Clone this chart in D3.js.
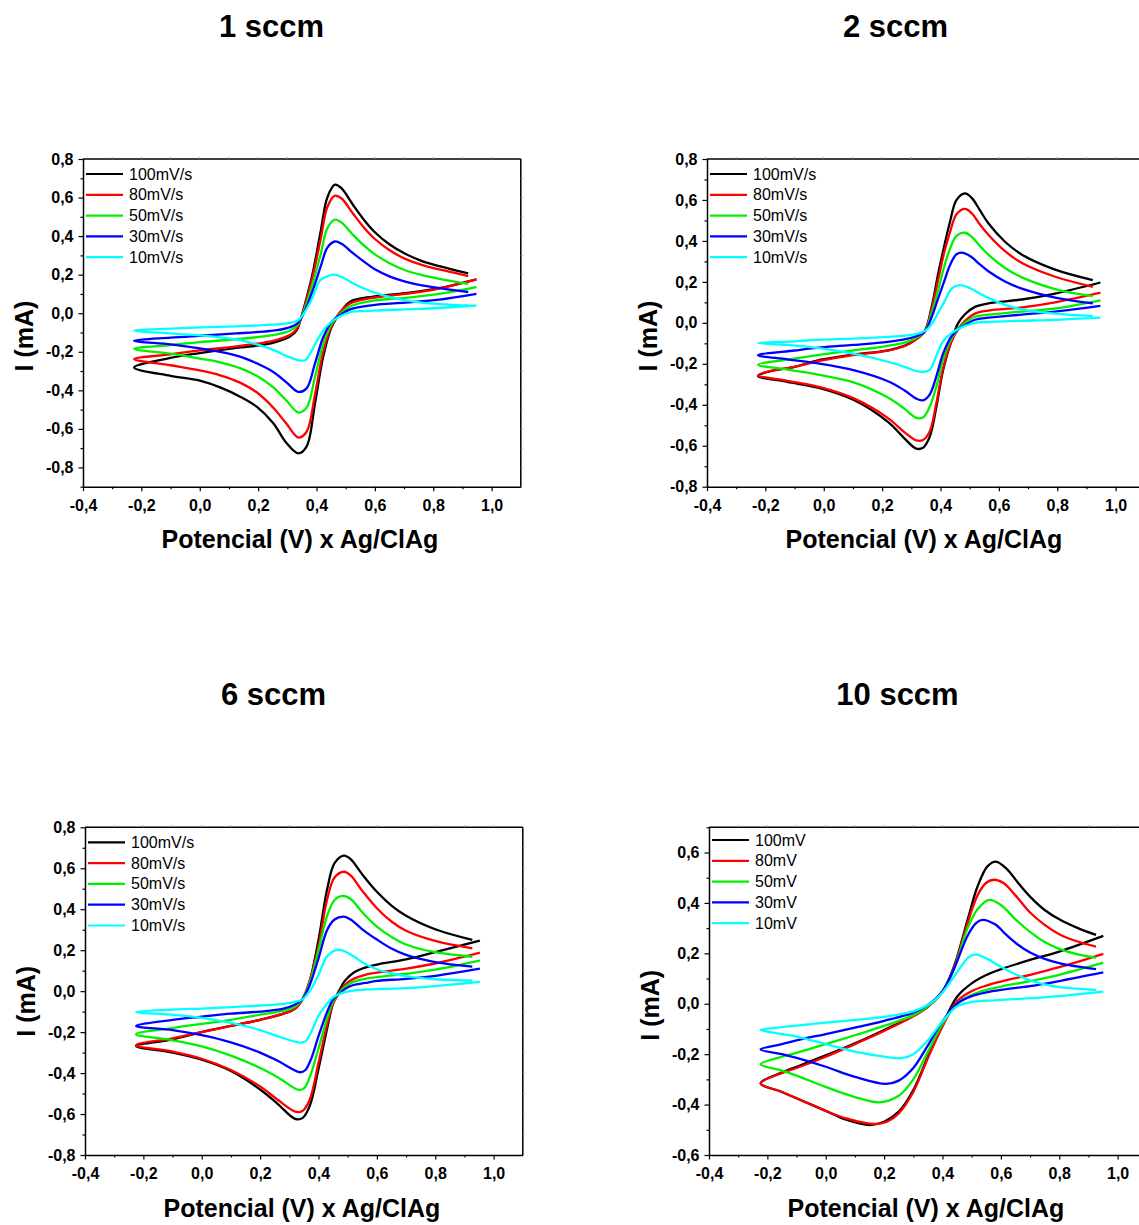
<!DOCTYPE html>
<html>
<head>
<meta charset="utf-8">
<script src="https://cdn.jsdelivr.net/npm/d3@7/dist/d3.min.js"></script>
<style>
  html, body { margin: 0; padding: 0; background: #fff; }
  svg { display: block; }
  text { font-family: "Liberation Sans", Arial, Helvetica, sans-serif; }
</style>
</head>
<body>
<svg id="fig" width="1139" height="1225"></svg>
<script>
// Cyclic voltammograms of the films grown at four gas flows.
// Each curve: anodic branch (upper) and cathodic branch (lower), points [E (V), I (mA)].

const panelTitles = ["1 sccm", "2 sccm", "6 sccm", "10 sccm"];
const scanRates = ["100mV/s", "80mV/s", "50mV/s", "30mV/s", "10mV/s"];
const scanRatesShort = ["100mV", "80mV", "50mV", "30mV", "10mV"];
const seriesColors = ["#000000", "#ff0000", "#00f000", "#0000ff", "#00ffff"];
const xTickValues = [-0.4, -0.2, 0.0, 0.2, 0.4, 0.6, 0.8, 1.0];
const yTicksWide = [-0.8, -0.6, -0.4, -0.2, 0.0, 0.2, 0.4, 0.6, 0.8];
const yTicksNarrow = [-0.6, -0.4, -0.2, 0.0, 0.2, 0.4, 0.6];
const xTitle = "Potencial (V) x Ag/ClAg";
const yTitle = "I (mA)";

// ---- 1 sccm ----
const anodic1 = [
  [[-0.225,-0.282],[-0.1,-0.232],[0.0,-0.207],[0.125,-0.18],[0.22,-0.163],[0.265,-0.147],[0.31,-0.12],[0.333,-0.086],[0.345,-0.035],[0.368,0.09],[0.39,0.23],[0.415,0.43],[0.437,0.6],[0.463,0.667],[0.486,0.648],[0.526,0.56],[0.565,0.48],[0.6,0.42],[0.652,0.355],[0.704,0.308],[0.766,0.268],[0.85,0.233],[0.92,0.207]],
  [[-0.225,-0.238],[-0.1,-0.213],[0.0,-0.193],[0.125,-0.172],[0.22,-0.152],[0.265,-0.138],[0.31,-0.112],[0.333,-0.08],[0.345,-0.035],[0.368,0.08],[0.39,0.21],[0.415,0.39],[0.437,0.55],[0.463,0.61],[0.486,0.595],[0.526,0.515],[0.565,0.44],[0.6,0.385],[0.652,0.325],[0.704,0.282],[0.766,0.248],[0.85,0.217],[0.92,0.193]],
  [[-0.225,-0.185],[-0.1,-0.165],[0.0,-0.15],[0.125,-0.135],[0.22,-0.12],[0.265,-0.11],[0.31,-0.09],[0.333,-0.065],[0.345,-0.035],[0.368,0.06],[0.39,0.17],[0.415,0.31],[0.437,0.44],[0.463,0.485],[0.486,0.47],[0.526,0.405],[0.565,0.348],[0.6,0.305],[0.652,0.258],[0.704,0.223],[0.766,0.196],[0.85,0.17],[0.92,0.152]],
  [[-0.225,-0.143],[-0.1,-0.127],[0.0,-0.117],[0.125,-0.105],[0.22,-0.095],[0.265,-0.088],[0.31,-0.072],[0.333,-0.055],[0.345,-0.033],[0.368,0.04],[0.39,0.13],[0.415,0.245],[0.437,0.34],[0.463,0.372],[0.486,0.36],[0.526,0.31],[0.565,0.265],[0.6,0.228],[0.652,0.19],[0.704,0.164],[0.766,0.143],[0.85,0.124],[0.92,0.11]],
  [[-0.225,-0.09],[-0.1,-0.08],[0.0,-0.073],[0.125,-0.068],[0.22,-0.062],[0.265,-0.058],[0.31,-0.05],[0.333,-0.04],[0.345,-0.026],[0.383,0.07],[0.412,0.17],[0.44,0.193],[0.461,0.2],[0.49,0.185],[0.53,0.152],[0.565,0.127],[0.6,0.107],[0.652,0.083],[0.704,0.066],[0.766,0.054],[0.85,0.045],[0.92,0.04]]
];
const cathodic1 = [
  [[-0.225,-0.282],[-0.1,-0.325],[0.0,-0.35],[0.07,-0.385],[0.138,-0.433],[0.195,-0.485],[0.252,-0.571],[0.298,-0.675],[0.338,-0.727],[0.366,-0.692],[0.395,-0.467],[0.423,-0.225],[0.452,-0.07],[0.48,0.0],[0.515,0.06],[0.594,0.086],[0.704,0.104],[0.82,0.13],[0.948,0.176]],
  [[-0.225,-0.238],[-0.1,-0.27],[0.0,-0.297],[0.07,-0.322],[0.138,-0.36],[0.195,-0.41],[0.252,-0.49],[0.298,-0.575],[0.338,-0.645],[0.366,-0.615],[0.395,-0.42],[0.423,-0.2],[0.452,-0.065],[0.48,0.005],[0.515,0.05],[0.594,0.08],[0.704,0.1],[0.82,0.128],[0.948,0.175]],
  [[-0.225,-0.185],[-0.1,-0.21],[0.0,-0.235],[0.07,-0.255],[0.138,-0.285],[0.195,-0.325],[0.252,-0.385],[0.298,-0.455],[0.338,-0.515],[0.366,-0.49],[0.395,-0.33],[0.423,-0.16],[0.452,-0.055],[0.48,-0.005],[0.515,0.035],[0.594,0.065],[0.704,0.08],[0.82,0.1],[0.948,0.135]],
  [[-0.225,-0.143],[-0.1,-0.162],[0.0,-0.182],[0.07,-0.2],[0.138,-0.225],[0.195,-0.26],[0.252,-0.305],[0.298,-0.36],[0.338,-0.408],[0.366,-0.39],[0.395,-0.26],[0.423,-0.125],[0.452,-0.045],[0.48,-0.01],[0.515,0.02],[0.594,0.042],[0.704,0.055],[0.82,0.07],[0.948,0.1]],
  [[-0.225,-0.09],[-0.1,-0.105],[0.0,-0.115],[0.07,-0.125],[0.138,-0.14],[0.195,-0.162],[0.252,-0.19],[0.298,-0.222],[0.34,-0.245],[0.362,-0.243],[0.385,-0.19],[0.41,-0.12],[0.44,-0.06],[0.47,-0.025],[0.515,0.005],[0.594,0.013],[0.704,0.02],[0.82,0.027],[0.948,0.04]]
];

// ---- 2 sccm ----
const anodic2 = [
  [[-0.225,-0.26],[-0.193,-0.24],[-0.1,-0.215],[-0.01,-0.18],[0.1,-0.155],[0.22,-0.134],[0.28,-0.11],[0.311,-0.085],[0.346,-0.04],[0.37,0.08],[0.392,0.24],[0.412,0.37],[0.432,0.49],[0.455,0.6],[0.484,0.632],[0.507,0.61],[0.535,0.55],[0.564,0.486],[0.621,0.396],[0.679,0.333],[0.793,0.26],[0.922,0.209]],
  [[-0.225,-0.256],[-0.193,-0.238],[-0.1,-0.215],[-0.01,-0.185],[0.1,-0.158],[0.22,-0.136],[0.28,-0.112],[0.311,-0.087],[0.346,-0.042],[0.37,0.07],[0.392,0.21],[0.412,0.34],[0.432,0.44],[0.455,0.53],[0.484,0.556],[0.507,0.535],[0.535,0.48],[0.564,0.43],[0.621,0.35],[0.679,0.292],[0.793,0.225],[0.922,0.176]],
  [[-0.225,-0.204],[-0.1,-0.175],[-0.01,-0.155],[0.1,-0.135],[0.22,-0.112],[0.28,-0.095],[0.311,-0.077],[0.346,-0.043],[0.37,0.05],[0.392,0.16],[0.412,0.27],[0.432,0.36],[0.455,0.425],[0.484,0.44],[0.507,0.42],[0.535,0.375],[0.564,0.333],[0.621,0.268],[0.679,0.222],[0.793,0.165],[0.922,0.13]],
  [[-0.225,-0.158],[-0.1,-0.135],[-0.01,-0.12],[0.1,-0.108],[0.22,-0.093],[0.28,-0.08],[0.311,-0.068],[0.346,-0.043],[0.37,0.03],[0.392,0.12],[0.412,0.2],[0.432,0.28],[0.455,0.335],[0.478,0.342],[0.507,0.32],[0.535,0.285],[0.564,0.252],[0.621,0.202],[0.679,0.167],[0.793,0.123],[0.922,0.095]],
  [[-0.225,-0.098],[-0.1,-0.09],[-0.01,-0.082],[0.1,-0.077],[0.22,-0.068],[0.28,-0.062],[0.311,-0.056],[0.346,-0.04],[0.37,-0.005],[0.392,0.05],[0.412,0.1],[0.44,0.17],[0.466,0.184],[0.5,0.17],[0.535,0.143],[0.564,0.122],[0.621,0.088],[0.679,0.066],[0.793,0.045],[0.922,0.033]]
];
const cathodic2 = [
  [[-0.225,-0.26],[-0.125,-0.288],[-0.01,-0.32],[0.105,-0.378],[0.22,-0.484],[0.277,-0.565],[0.317,-0.614],[0.34,-0.61],[0.363,-0.557],[0.386,-0.41],[0.409,-0.23],[0.438,-0.085],[0.461,0.0],[0.484,0.042],[0.518,0.078],[0.564,0.095],[0.679,0.114],[0.793,0.143],[0.948,0.197]],
  [[-0.225,-0.256],[-0.125,-0.283],[-0.01,-0.315],[0.105,-0.37],[0.22,-0.465],[0.277,-0.535],[0.317,-0.574],[0.34,-0.572],[0.363,-0.53],[0.386,-0.39],[0.409,-0.22],[0.438,-0.09],[0.461,-0.03],[0.484,0.01],[0.518,0.045],[0.564,0.06],[0.679,0.075],[0.793,0.1],[0.948,0.147]],
  [[-0.225,-0.204],[-0.125,-0.228],[-0.01,-0.255],[0.105,-0.292],[0.22,-0.365],[0.277,-0.42],[0.317,-0.464],[0.34,-0.462],[0.363,-0.41],[0.386,-0.31],[0.409,-0.18],[0.438,-0.075],[0.461,-0.03],[0.484,0.0],[0.518,0.03],[0.564,0.04],[0.679,0.055],[0.793,0.07],[0.948,0.11]],
  [[-0.225,-0.158],[-0.125,-0.178],[-0.01,-0.2],[0.105,-0.232],[0.22,-0.285],[0.277,-0.33],[0.317,-0.37],[0.34,-0.378],[0.363,-0.35],[0.386,-0.26],[0.409,-0.15],[0.438,-0.065],[0.461,-0.03],[0.484,-0.01],[0.518,0.015],[0.564,0.025],[0.679,0.04],[0.793,0.055],[0.948,0.083]],
  [[-0.225,-0.098],[-0.125,-0.108],[-0.01,-0.125],[0.105,-0.152],[0.22,-0.19],[0.277,-0.215],[0.317,-0.235],[0.34,-0.24],[0.363,-0.23],[0.386,-0.16],[0.409,-0.09],[0.438,-0.05],[0.461,-0.03],[0.484,-0.015],[0.518,0.0],[0.564,0.005],[0.679,0.01],[0.793,0.015],[0.948,0.026]]
];

// ---- 6 sccm ----
const anodic6 = [
  [[-0.225,-0.268],[-0.1,-0.235],[0.0,-0.2],[0.1,-0.17],[0.2,-0.14],[0.28,-0.11],[0.32,-0.085],[0.345,-0.04],[0.37,0.05],[0.4,0.25],[0.43,0.5],[0.455,0.625],[0.487,0.662],[0.51,0.645],[0.55,0.57],[0.6,0.485],[0.65,0.418],[0.7,0.368],[0.8,0.302],[0.927,0.25]],
  [[-0.225,-0.264],[-0.1,-0.23],[0.0,-0.2],[0.1,-0.17],[0.2,-0.14],[0.28,-0.11],[0.32,-0.085],[0.345,-0.04],[0.37,0.05],[0.4,0.22],[0.43,0.45],[0.455,0.555],[0.487,0.583],[0.51,0.565],[0.55,0.49],[0.6,0.405],[0.65,0.34],[0.7,0.295],[0.8,0.245],[0.927,0.209]],
  [[-0.225,-0.21],[-0.1,-0.18],[0.0,-0.16],[0.1,-0.14],[0.2,-0.115],[0.28,-0.095],[0.32,-0.075],[0.345,-0.04],[0.37,0.04],[0.4,0.2],[0.43,0.37],[0.455,0.445],[0.482,0.465],[0.51,0.45],[0.55,0.385],[0.6,0.315],[0.65,0.265],[0.7,0.228],[0.8,0.19],[0.927,0.168]],
  [[-0.225,-0.17],[-0.1,-0.14],[0.0,-0.125],[0.1,-0.11],[0.2,-0.1],[0.28,-0.085],[0.32,-0.065],[0.345,-0.04],[0.37,0.03],[0.4,0.16],[0.43,0.3],[0.455,0.35],[0.487,0.364],[0.51,0.35],[0.55,0.302],[0.6,0.252],[0.65,0.208],[0.7,0.177],[0.8,0.142],[0.927,0.12]],
  [[-0.225,-0.102],[-0.1,-0.09],[0.0,-0.085],[0.1,-0.078],[0.2,-0.07],[0.28,-0.062],[0.32,-0.052],[0.345,-0.04],[0.37,0.0],[0.4,0.08],[0.43,0.17],[0.464,0.201],[0.49,0.195],[0.52,0.17],[0.56,0.133],[0.6,0.107],[0.65,0.087],[0.7,0.073],[0.8,0.058],[0.927,0.051]]
];
const cathodic6 = [
  [[-0.225,-0.268],[-0.1,-0.3],[0.0,-0.335],[0.1,-0.39],[0.2,-0.48],[0.26,-0.55],[0.32,-0.624],[0.345,-0.62],[0.37,-0.56],[0.4,-0.38],[0.43,-0.18],[0.45,-0.06],[0.47,0.0],[0.49,0.05],[0.52,0.09],[0.56,0.115],[0.6,0.13],[0.7,0.155],[0.8,0.19],[0.953,0.247]],
  [[-0.225,-0.264],[-0.1,-0.295],[0.0,-0.33],[0.1,-0.385],[0.2,-0.465],[0.26,-0.53],[0.32,-0.588],[0.345,-0.585],[0.37,-0.53],[0.4,-0.35],[0.43,-0.16],[0.45,-0.06],[0.47,-0.01],[0.49,0.03],[0.52,0.06],[0.56,0.08],[0.6,0.09],[0.7,0.11],[0.8,0.135],[0.953,0.188]],
  [[-0.225,-0.21],[-0.1,-0.24],[0.0,-0.27],[0.1,-0.315],[0.2,-0.375],[0.26,-0.42],[0.332,-0.482],[0.35,-0.475],[0.37,-0.42],[0.4,-0.28],[0.43,-0.13],[0.45,-0.05],[0.47,-0.01],[0.49,0.02],[0.52,0.045],[0.56,0.06],[0.6,0.068],[0.7,0.085],[0.8,0.105],[0.953,0.149]],
  [[-0.225,-0.17],[-0.1,-0.19],[0.0,-0.215],[0.1,-0.25],[0.2,-0.3],[0.26,-0.34],[0.337,-0.396],[0.355,-0.385],[0.375,-0.33],[0.4,-0.22],[0.43,-0.1],[0.45,-0.04],[0.47,-0.015],[0.49,0.01],[0.52,0.03],[0.56,0.04],[0.6,0.05],[0.7,0.06],[0.8,0.075],[0.953,0.11]],
  [[-0.225,-0.102],[-0.1,-0.115],[0.0,-0.13],[0.1,-0.155],[0.2,-0.19],[0.26,-0.22],[0.337,-0.251],[0.355,-0.245],[0.375,-0.2],[0.4,-0.12],[0.43,-0.06],[0.45,-0.03],[0.47,-0.015],[0.49,-0.005],[0.52,0.003],[0.56,0.007],[0.6,0.01],[0.7,0.015],[0.8,0.025],[0.953,0.045]]
];

// ---- 10 sccm ----
const anodic10 = [
  [[-0.223,-0.316],[-0.15,-0.272],[-0.1,-0.25],[0.0,-0.205],[0.1,-0.157],[0.2,-0.104],[0.3,-0.048],[0.35,-0.011],[0.4,0.048],[0.44,0.15],[0.486,0.333],[0.52,0.465],[0.554,0.545],[0.583,0.564],[0.62,0.535],[0.66,0.478],[0.7,0.425],[0.75,0.372],[0.8,0.335],[0.86,0.302],[0.926,0.273]],
  [[-0.223,-0.316],[-0.15,-0.275],[-0.1,-0.255],[0.0,-0.21],[0.1,-0.16],[0.2,-0.108],[0.3,-0.05],[0.35,-0.012],[0.4,0.048],[0.44,0.145],[0.486,0.32],[0.52,0.43],[0.55,0.48],[0.577,0.492],[0.61,0.478],[0.65,0.43],[0.7,0.362],[0.75,0.313],[0.8,0.276],[0.86,0.248],[0.926,0.227]],
  [[-0.223,-0.24],[-0.15,-0.21],[-0.1,-0.195],[0.0,-0.16],[0.1,-0.125],[0.2,-0.088],[0.3,-0.045],[0.35,-0.01],[0.4,0.05],[0.44,0.14],[0.486,0.3],[0.52,0.375],[0.56,0.412],[0.6,0.392],[0.65,0.335],[0.7,0.285],[0.75,0.245],[0.8,0.218],[0.86,0.197],[0.926,0.183]],
  [[-0.223,-0.181],[-0.15,-0.16],[-0.1,-0.145],[0.0,-0.12],[0.1,-0.095],[0.2,-0.068],[0.3,-0.035],[0.35,-0.005],[0.4,0.05],[0.44,0.14],[0.486,0.27],[0.515,0.32],[0.537,0.333],[0.58,0.315],[0.62,0.272],[0.66,0.233],[0.7,0.203],[0.75,0.178],[0.8,0.161],[0.86,0.148],[0.926,0.137]],
  [[-0.223,-0.104],[-0.15,-0.093],[-0.1,-0.087],[0.0,-0.075],[0.1,-0.064],[0.2,-0.052],[0.3,-0.03],[0.35,-0.005],[0.4,0.045],[0.45,0.125],[0.49,0.185],[0.514,0.196],[0.55,0.18],[0.6,0.147],[0.65,0.117],[0.7,0.093],[0.75,0.077],[0.8,0.066],[0.86,0.06],[0.926,0.055]]
];
const cathodic10 = [
  [[-0.223,-0.316],[-0.15,-0.35],[-0.1,-0.375],[0.0,-0.425],[0.07,-0.46],[0.15,-0.481],[0.2,-0.468],[0.25,-0.428],[0.3,-0.342],[0.35,-0.21],[0.4,-0.084],[0.45,0.028],[0.5,0.081],[0.55,0.114],[0.6,0.137],[0.7,0.174],[0.8,0.207],[0.951,0.269]],
  [[-0.223,-0.316],[-0.15,-0.35],[-0.1,-0.375],[0.0,-0.425],[0.07,-0.455],[0.166,-0.477],[0.21,-0.468],[0.25,-0.435],[0.3,-0.35],[0.35,-0.215],[0.4,-0.09],[0.45,0.01],[0.5,0.05],[0.55,0.072],[0.6,0.088],[0.7,0.115],[0.8,0.145],[0.951,0.198]],
  [[-0.223,-0.24],[-0.15,-0.265],[-0.1,-0.285],[0.0,-0.33],[0.1,-0.37],[0.183,-0.391],[0.25,-0.365],[0.3,-0.3],[0.35,-0.19],[0.4,-0.08],[0.45,0.0],[0.5,0.035],[0.55,0.055],[0.6,0.068],[0.7,0.09],[0.8,0.115],[0.951,0.163]],
  [[-0.223,-0.181],[-0.15,-0.2],[-0.1,-0.215],[0.0,-0.25],[0.1,-0.29],[0.206,-0.318],[0.25,-0.305],[0.3,-0.255],[0.35,-0.165],[0.4,-0.07],[0.45,0.0],[0.5,0.03],[0.55,0.045],[0.6,0.055],[0.7,0.07],[0.8,0.09],[0.951,0.124]],
  [[-0.223,-0.104],[-0.15,-0.12],[-0.1,-0.13],[0.0,-0.16],[0.1,-0.19],[0.2,-0.21],[0.257,-0.216],[0.3,-0.2],[0.35,-0.145],[0.4,-0.07],[0.45,-0.01],[0.5,0.007],[0.55,0.012],[0.6,0.015],[0.7,0.022],[0.8,0.03],[0.951,0.048]]
];

// ---- layout of the four panels ----
const panels = [
  { title: panelTitles[0], left: 83,  top: 159,   yDomain: [-0.9, 0.8], yTicks: yTicksWide,   labels: scanRates,      anodic: anodic1,  cathodic: cathodic1,  legendTop: 15,   yTitleDy: 177 },
  { title: panelTitles[1], left: 707, top: 159,   yDomain: [-0.8, 0.8], yTicks: yTicksWide,   labels: scanRates,      anodic: anodic2,  cathodic: cathodic2,  legendTop: 15,   yTitleDy: 177 },
  { title: panelTitles[2], left: 85,  top: 827.3, yDomain: [-0.8, 0.8], yTicks: yTicksWide,   labels: scanRates,      anodic: anodic6,  cathodic: cathodic6,  legendTop: 15,   yTitleDy: 174 },
  { title: panelTitles[3], left: 709, top: 827.3, yDomain: [-0.6, 0.7], yTicks: yTicksNarrow, labels: scanRatesShort, anodic: anodic10, cathodic: cathodic10, legendTop: 12.7, yTitleDy: 178 }
];
const plotW = 437.8, plotH = 327.7;
const xDomain = [-0.4, 1.1];

const fmt = v => Math.abs(v) < 1e-9 ? "0,0" : (v < 0 ? "-" : "") + Math.abs(v).toFixed(1).replace(".", ",");

const svg = d3.select("#fig");
svg.append("rect").attr("width", 1139).attr("height", 1225).attr("fill", "#fff");

panels.forEach(p => {
  const g = svg.append("g").attr("transform", `translate(${p.left},${p.top})`);
  const x = d3.scaleLinear().domain(xDomain).range([0, plotW]);
  const y = d3.scaleLinear().domain(p.yDomain).range([plotH, 0]);

  // panel title
  svg.append("text")
    .attr("x", p.left + 188.5).attr("y", p.top - 122)
    .attr("text-anchor", "middle")
    .attr("font-size", 31).attr("font-weight", "bold")
    .text(p.title);

  // top and right frame with small ticks
  g.append("line").attr("x1", 0).attr("x2", plotW).attr("y1", 0).attr("y2", 0)
    .attr("stroke", "#000").attr("stroke-width", 1.5);
  g.append("line").attr("x1", plotW).attr("x2", plotW).attr("y1", 0).attr("y2", plotH)
    .attr("stroke", "#000").attr("stroke-width", 1.5);
  const topTicks = d3.range(-3, 11).map(k => k / 10);
  g.append("g").selectAll("line").data(topTicks).join("line")
    .attr("x1", d => x(d)).attr("x2", d => x(d)).attr("y1", 0).attr("y2", -2)
    .attr("stroke", "#999").attr("stroke-width", 1);
  const yLo = Math.round(p.yDomain[0] * 10), yHi = Math.round(p.yDomain[1] * 10);
  const rightTicks = d3.range(yLo + 1, yHi).map(k => k / 10);
  g.append("g").selectAll("line").data(rightTicks).join("line")
    .attr("x1", plotW).attr("x2", plotW + 2).attr("y1", d => y(d)).attr("y2", d => y(d))
    .attr("stroke", "#999").attr("stroke-width", 1);

  // curves: anodic branch traced back to the start potential, then the cathodic branch
  const line = d3.line().x(d => x(d[0])).y(d => y(d[1])).curve(d3.curveCatmullRom.alpha(0.5));
  p.anodic.forEach((branch, i) => {
    const pts = branch.slice().reverse().concat(p.cathodic[i].slice(1));
    g.append("path").attr("d", line(pts))
      .attr("fill", "none").attr("stroke", seriesColors[i])
      .attr("stroke-width", 2.3).attr("stroke-linejoin", "round");
  });

  // bottom axis: major + minor ticks
  const xMinor = d3.range(-3, 11, 2).map(k => k / 10);
  const xAxisG = g.append("g").attr("transform", `translate(0,${plotH})`)
    .call(d3.axisBottom(x).tickValues(xTickValues).tickFormat(fmt).tickSizeInner(4.5).tickSizeOuter(0).tickPadding(8.5));
  g.append("g").attr("transform", `translate(0,${plotH})`)
    .call(d3.axisBottom(x).tickValues(xMinor).tickFormat("").tickSizeInner(2.5).tickSizeOuter(0))
    .call(a => a.select(".domain").remove());

  // left axis: major + minor ticks
  const yMinor = d3.range(yLo, yHi + 1).filter(k => Math.abs(k) % 2 === 1).map(k => k / 10);
  const yAxisG = g.append("g")
    .call(d3.axisLeft(y).tickValues(p.yTicks).tickFormat(fmt).tickSizeInner(4.5).tickSizeOuter(0).tickPadding(5));
  g.append("g")
    .call(d3.axisLeft(y).tickValues(yMinor).tickFormat("").tickSizeInner(2.5).tickSizeOuter(0))
    .call(a => a.select(".domain").remove());

  [xAxisG, yAxisG].forEach(a => {
    a.select(".domain").attr("stroke-width", 1.5);
    a.selectAll("text").attr("font-family", "'Liberation Sans', Arial, sans-serif")
      .attr("font-size", 16).attr("font-weight", "bold").attr("fill", "#000");
  });
  g.selectAll(".tick line").attr("stroke", "#000").attr("stroke-width", 1.2);

  // axis titles
  g.append("text")
    .attr("x", plotW / 2 - 2).attr("y", plotH + 61.6)
    .attr("text-anchor", "middle").attr("font-size", 25).attr("font-weight", "bold")
    .text(xTitle);
  g.append("text")
    .attr("transform", `translate(-49.7,${p.yTitleDy}) rotate(-90)`)
    .attr("text-anchor", "middle").attr("font-size", 25).attr("font-weight", "bold")
    .text(yTitle);

  // legend
  const leg = g.append("g").attr("transform", `translate(0,${p.legendTop})`);
  p.labels.forEach((lab, i) => {
    const yy = i * 20.8;
    leg.append("line").attr("x1", 3).attr("x2", 40).attr("y1", yy).attr("y2", yy)
      .attr("stroke", seriesColors[i]).attr("stroke-width", 2.2);
    leg.append("text").attr("x", 46).attr("y", yy).attr("dy", "0.35em")
      .attr("font-size", 16).attr("fill", "#000").text(lab);
  });
});
</script>
</body>
</html>
